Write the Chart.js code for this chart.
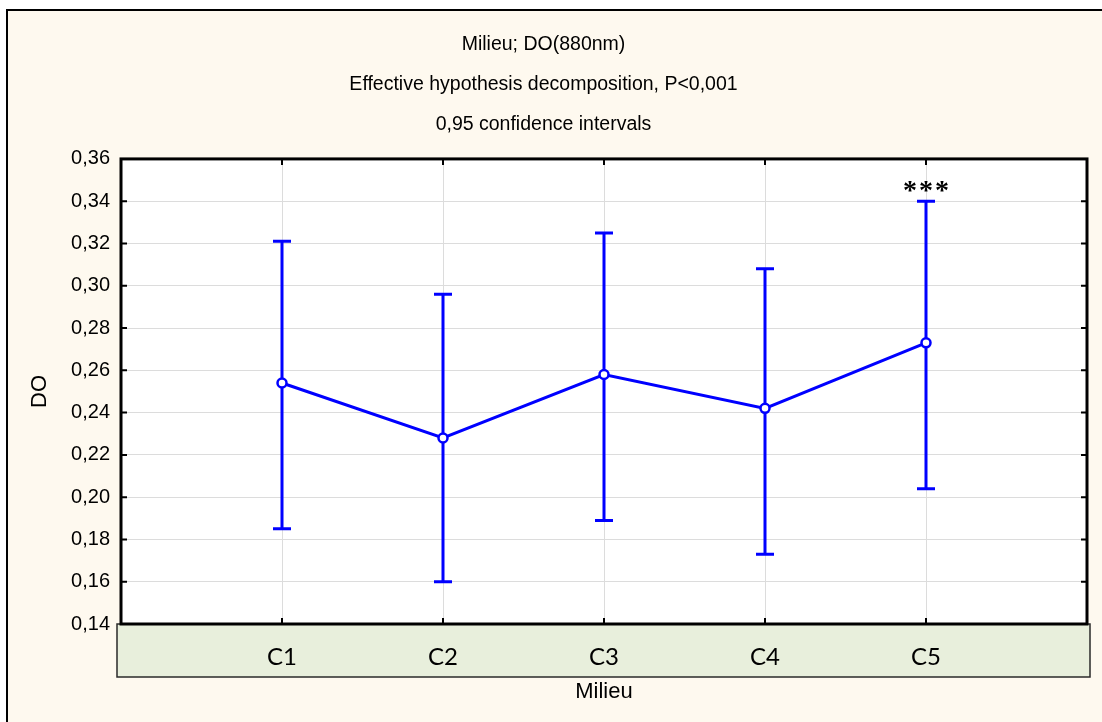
<!DOCTYPE html>
<html><head><meta charset="utf-8">
<script src="https://cdn.jsdelivr.net/npm/chart.js@4.4.1/dist/chart.umd.min.js"></script>
<style>html,body{margin:0;padding:0;background:#fff;}canvas{display:block;}</style>
</head><body>
<canvas id="c" width="1102" height="722"></canvas>
<script>
const categories = ['C1', 'C2', 'C3', 'C4', 'C5'];
const means = [0.254, 0.228, 0.258, 0.242, 0.273];
const upperCI = [0.321, 0.296, 0.325, 0.308, 0.340];
const lowerCI = [0.185, 0.160, 0.189, 0.173, 0.204];
const significance = ['', '', '', '', '***'];
const yTickValues = [0.14, 0.16, 0.18, 0.20, 0.22, 0.24, 0.26, 0.28, 0.30, 0.32, 0.34, 0.36];
const titleLines = ['Milieu; DO(880nm)', 'Effective hypothesis decomposition, P<0,001', '0,95 confidence intervals'];
const xAxisTitle = 'Milieu';
const yAxisTitle = 'DO';

const W = 1102, H = 722;
const BLUE = '#0000FF';
const SANS = "'Liberation Sans', Arial, sans-serif";

const decor = {
  id: 'decor',
  beforeDraw(chart) {
    const ctx = chart.ctx;
    const {left, top, right, bottom} = chart.chartArea;
    ctx.save();
    ctx.fillStyle = '#ffffff';
    ctx.fillRect(0, 0, W, H);
    ctx.fillStyle = '#FEF9EF';
    ctx.fillRect(7, 10, W, H);
    ctx.strokeStyle = '#000';
    ctx.lineWidth = 2;
    ctx.beginPath();
    ctx.moveTo(7, H + 5); ctx.lineTo(7, 10); ctx.lineTo(W + 5, 10);
    ctx.stroke();
    ctx.fillStyle = '#ffffff';
    ctx.fillRect(left, top, right - left, bottom - top);
    // category band
    const bx = left - 4, bw = right + 3 - bx, by = bottom, bh = 53;
    ctx.fillStyle = '#E8EFDC';
    ctx.fillRect(bx, by, bw, bh);
    ctx.strokeStyle = '#2a2a2a';
    ctx.lineWidth = 1.5;
    ctx.strokeRect(bx, by, bw, bh);
    ctx.restore();
  },
  beforeDatasetsDraw(chart) {
    const ctx = chart.ctx;
    const xs = chart.scales.x, ys = chart.scales.y;
    ctx.save();
    ctx.strokeStyle = BLUE;
    ctx.lineWidth = 3;
    categories.forEach((c, i) => {
      const px = xs.getPixelForValue(i + 1);
      const pu = ys.getPixelForValue(upperCI[i]);
      const pl = ys.getPixelForValue(lowerCI[i]);
      ctx.beginPath();
      ctx.moveTo(px, pu); ctx.lineTo(px, pl);
      ctx.moveTo(px - 9, pu); ctx.lineTo(px + 9, pu);
      ctx.moveTo(px - 9, pl); ctx.lineTo(px + 9, pl);
      ctx.stroke();
    });
    ctx.restore();
  },
  afterDatasetsDraw(chart) {
    const ctx = chart.ctx;
    const {left, top, right, bottom} = chart.chartArea;
    const xs = chart.scales.x, ys = chart.scales.y;
    ctx.save();
    ctx.strokeStyle = '#000';
    ctx.lineWidth = 2;
    ctx.beginPath();
    yTickValues.forEach(v => {
      const py = ys.getPixelForValue(v);
      ctx.moveTo(left, py); ctx.lineTo(left + 6, py);
      ctx.moveTo(right, py); ctx.lineTo(right - 6, py);
    });
    categories.forEach((c, i) => {
      const px = xs.getPixelForValue(i + 1);
      ctx.moveTo(px, top); ctx.lineTo(px, top + 6);
      ctx.moveTo(px, bottom); ctx.lineTo(px, bottom - 6);
    });
    ctx.stroke();
    ctx.lineWidth = 3;
    ctx.strokeRect(left, top, right - left, bottom - top);
    // significance markers
    ctx.fillStyle = '#000';
    ctx.font = "bold 28px 'Liberation Serif', 'Times New Roman', serif";
    ctx.textAlign = 'center';
    ctx.textBaseline = 'alphabetic';
    try { ctx.letterSpacing = '2px'; } catch (e) {}
    significance.forEach((s, i) => {
      if (!s) return;
      const px = xs.getPixelForValue(i + 1);
      const pu = ys.getPixelForValue(upperCI[i]);
      ctx.fillText(s, px + 1, pu - 2);
    });
    ctx.restore();
  }
};

new Chart(document.getElementById('c'), {
  type: 'line',
  data: {
    datasets: [{
      data: categories.map((c, i) => ({x: i + 1, y: means[i]})),
      borderColor: BLUE,
      borderWidth: 3,
      tension: 0,
      pointRadius: 4.5,
      pointBorderWidth: 2.5,
      pointBackgroundColor: '#ffffff',
      pointBorderColor: BLUE,
      fill: false
    }]
  },
  options: {
    responsive: false,
    animation: false,
    devicePixelRatio: 1,
    layout: {padding: {left: 0, right: 15, top: 0, bottom: 0}},
    plugins: {
      legend: {display: false},
      tooltip: {enabled: false},
      title: {
        display: true,
        text: titleLines,
        color: '#000',
        font: {family: SANS, size: 19.5, weight: 'normal', lineHeight: 2.05},
        padding: {top: 25, bottom: 14}
      }
    },
    scales: {
      x: {
        type: 'linear',
        position: 'bottom',
        min: 0, max: 6,
        afterBuildTicks: s => { s.ticks = categories.map((c, i) => ({value: i + 1})); },
        afterFit: s => { s.height = 98; },
        grid: {color: '#DCDCDC', lineWidth: 1, drawTicks: false},
        border: {display: false},
        ticks: {
          callback: v => categories[v - 1] || '',
          font: {family: 'Lato, sans-serif', size: 24},
          color: '#000',
          padding: 19,
          maxRotation: 0,
          autoSkip: false
        },
        title: {
          display: true,
          text: xAxisTitle,
          color: '#000',
          font: {family: SANS, size: 22},
          padding: {top: 0, bottom: 17}
        }
      },
      y: {
        min: 0.14, max: 0.36,
        afterBuildTicks: s => { s.ticks = yTickValues.map(v => ({value: v})); },
        afterFit: s => { s.width = 121; },
        grid: {color: '#DCDCDC', lineWidth: 1, drawTicks: false},
        border: {display: false},
        ticks: {
          callback: v => Number(v).toFixed(2).replace('.', ','),
          font: {family: SANS, size: 20},
          color: '#000',
          padding: 11
        },
        title: {
          display: true,
          text: yAxisTitle,
          color: '#000',
          font: {family: SANS, size: 22},
          padding: {top: 27, bottom: 0}
        }
      }
    }
  },
  plugins: [decor]
});
</script>
</body></html>
